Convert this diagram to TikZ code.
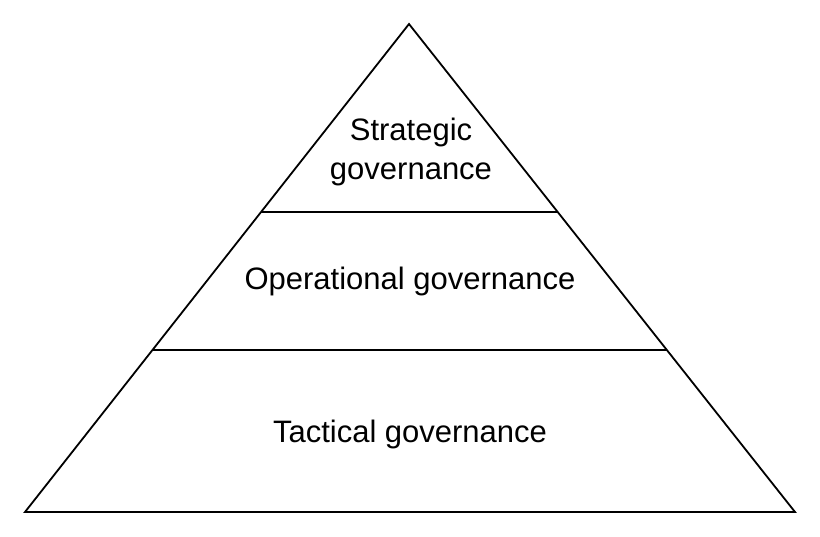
\documentclass[tikz,border=0pt]{standalone}
\usepackage{fontspec}
\setmainfont{Liberation Sans}
\usetikzlibrary{calc}

\begin{document}
\begin{tikzpicture}[
    x=1pt, y=-1pt,
    edge/.style={draw=black, line width=1.8pt, line join=miter},
    level/.style={align=center, font=\fontsize{31}{39}\selectfont, inner sep=0pt},
]
    \useasboundingbox (0,0) rectangle (820,536);
    \coordinate (apex) at (409,24);
    \coordinate (baseL) at (25,512);
    \coordinate (baseR) at (795,512);
    \coordinate (topL) at ($(apex)!0.385!(baseL)$);
    \coordinate (topR) at ($(apex)!0.385!(baseR)$);
    \coordinate (midL) at ($(apex)!0.668!(baseL)$);
    \coordinate (midR) at ($(apex)!0.668!(baseR)$);

    \draw[edge] (apex) -- (baseL) -- (baseR) -- cycle;
    \draw[edge] (topL) -- (topR);
    \draw[edge] (midL) -- (midR);

    \node[level] (strategic) at (411,152) {Strategic\\governance};
    \node[level] (operational) at (410,281) {Operational governance};
    \node[level] (tactical) at (410,434) {Tactical governance};
\end{tikzpicture}
\end{document}
